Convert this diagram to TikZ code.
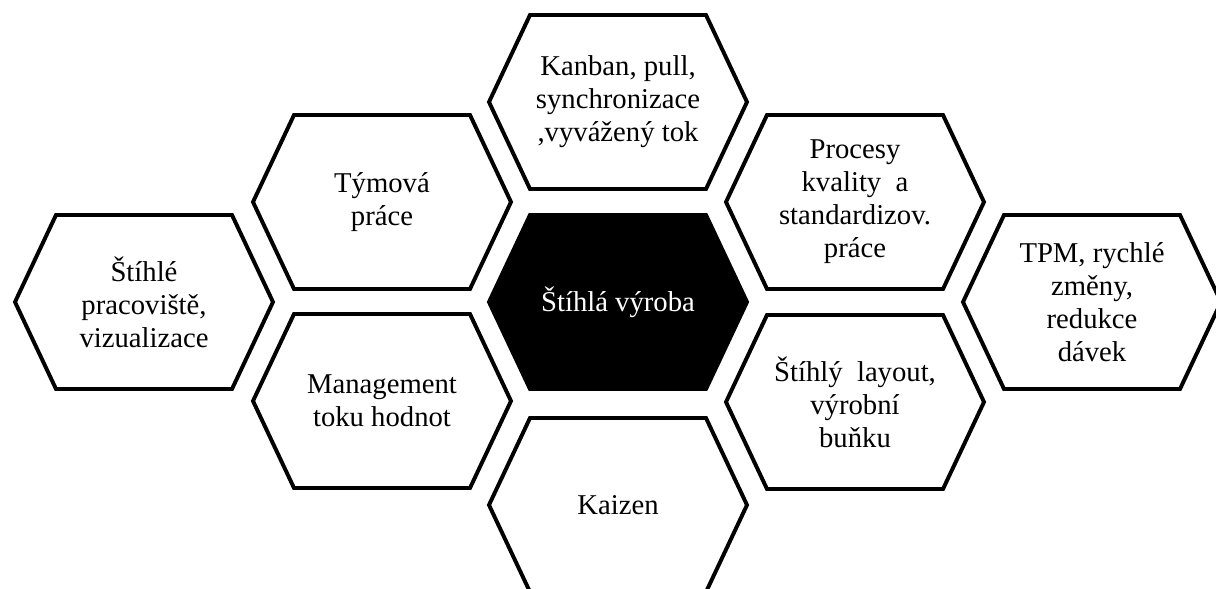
\documentclass[tikz,border=0pt]{standalone}
\usepackage{fontspec}
\setmainfont{Liberation Serif}
\pgfdeclarelayer{background}
\pgfsetlayers{background,main}

\begin{document}
\begin{tikzpicture}[x=0.025cm, y=-0.025cm,
	hex/.style={align=center, font=\fontsize{20.4}{23.5}\selectfont},
	hexline/.style={line width=2.8pt, draw=black}]
	\useasboundingbox (0,0) rectangle (1216,588);
	\node (lean)	at ( 618, 302)	[hex, text=white]	{Štíhlá výroba};
	\node (kanban)	at ( 618, 102)	[hex]	{Kanban, pull,\\synchronizace\\,vyvážený tok};
	\node (kaizen)	at ( 618, 505)	[hex]	{Kaizen};
	\node (tymova)	at ( 382, 202)	[hex]	{Týmová\\práce};
	\node (vsm)	at ( 382, 401)	[hex]	{Management\\toku hodnot};
	\node (kvalita)	at ( 855, 202)	[hex]	{Procesy\\kvality\ \ a\\standardizov.\\práce};
	\node (layout)	at ( 855, 402)	[hex]	{Štíhlý\ \ layout,\\výrobní\\buňku};
	\node (pracov)	at ( 144, 302)	[hex]	{Štíhlé\\pracoviště,\\vizualizace};
	\node (tpm)	at (1092, 302)	[hex]	{TPM, rychlé\\změny,\\redukce\\dávek};
	\begin{pgfonlayer}{background}
	\foreach \n/\c in {lean/black, kanban/white, kaizen/white, tymova/white, vsm/white, kvalita/white, layout/white, pracov/white, tpm/white} {
		\begin{scope}[shift={(\n)}]
			\draw[hexline, fill=\c] (-88,-87) -- (88,-87) -- (129,0) -- (88,87) -- (-88,87) -- (-129,0) -- cycle;
		\end{scope}
	}
	\end{pgfonlayer}
\end{tikzpicture}
\end{document}
